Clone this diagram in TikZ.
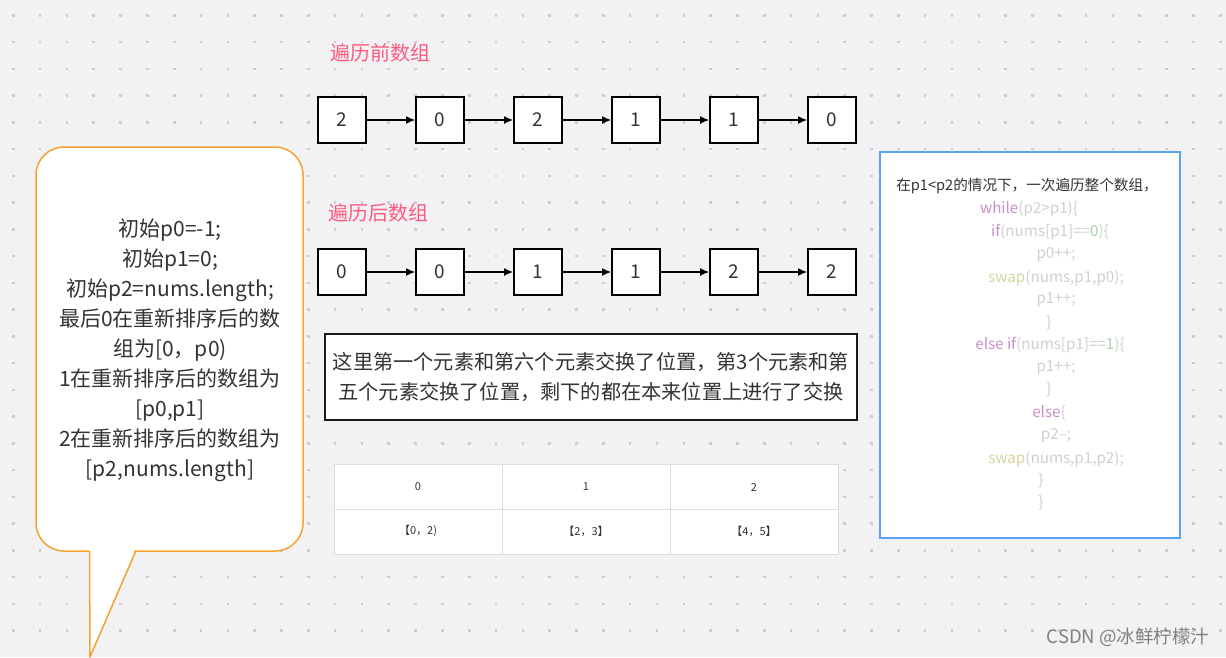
\documentclass[tikz,border=0pt]{standalone}
\usepackage{fontspec}
\setmainfont{Noto Sans CJK SC}
\usetikzlibrary{arrows.meta}
\definecolor{bgc}{HTML}{F2F2F5}
\definecolor{dotc}{HTML}{CDCDD0}
\definecolor{pinkc}{HTML}{FF5A7E}
\definecolor{orangec}{HTML}{F5A231}
\definecolor{bluec}{HTML}{5BA3F0}
\definecolor{txtc}{HTML}{333333}
\definecolor{gridc}{HTML}{DCDCDC}
\definecolor{codec}{HTML}{D0D0D0}
\definecolor{kwc}{HTML}{C98FC9}
\definecolor{fnc}{HTML}{D5D5A3}
\definecolor{numc}{HTML}{A6D2A6}
\newcommand{\kw}[1]{\textcolor{kwc}{#1}}
\newcommand{\fn}[1]{\textcolor{fnc}{#1}}
\newcommand{\nm}[1]{\textcolor{numc}{#1}}
\begin{document}
\begin{tikzpicture}[x=1pt,y=-1pt,>={Latex[length=9pt,width=8pt]},
  cell/.style={draw=black,line width=2.3pt,fill=white,minimum width=47.5pt,
    minimum height=46pt,inner sep=0pt,text=txtc,font=\fontsize{19}{19}\selectfont},
  title/.style={text=pinkc,font=\fontsize{20}{20}\selectfont},
  tab/.style={text=txtc,font=\fontsize{11}{11}\selectfont},
  codeline/.style={text=codec,inner sep=0pt,font=\fontsize{15.2}{15.2}\selectfont}]
\useasboundingbox (0,0) rectangle (1226,657);
\fill[bgc] (0,0) rectangle (1226,657);
% dotted grid
\foreach \i in {0,...,45}
  \foreach \j in {0,...,23}
    \fill[dotc] (12+\i*26.82,14+\j*26.75) rectangle +(2.6,2.6);

% speech bubble
\draw[orangec,line width=1.5pt,fill=white,rounded corners=28pt] (36,147) rectangle (303,551);
\fill[white] (89.5,548) -- (135.5,548) -- (90,657) -- cycle;
\draw[orangec,line width=1.5pt] (89.5,551) -- (90,657) -- (135.8,551);
\node[align=center,text=txtc,font=\fontsize{21}{30}\selectfont] (init) at (170,350)
  {初始p0=-1;\\初始p1=0;\\初始p2=nums.length;\\最后0在重新排序后的数\\组为[0，p0)\\
   1在重新排序后的数组为\\{[}p0,p1{]}\\2在重新排序后的数组为\\{[}p2,nums.length{]}};

% arrays
\node[title,anchor=west] (before) at (327,53) {遍历前数组};
\node[title,anchor=west] (after) at (325,213) {遍历后数组};
\foreach \k/\v in {1/2,2/0,3/2,4/1,5/1,6/0}
  \node[cell] (a\k) at (244+98*\k,120) {\v};
\foreach \k/\v in {1/0,2/0,3/1,4/1,5/2,6/2}
  \node[cell] (b\k) at (244+98*\k,272) {\v};
\foreach \i/\j in {1/2,2/3,3/4,4/5,5/6}
{
  \draw[->,line width=1.3pt] (a\i) -- (a\j);
  \draw[->,line width=1.3pt] (b\i) -- (b\j);
}

% note
\node[draw=black!90,line width=2pt,fill=white,minimum width=532pt,minimum height=86pt,
  align=center,text=txtc,font=\fontsize{20.2}{30}\selectfont] (note) at (591,377)
  {这里第一个元素和第六个元素交换了位置，第3个元素和第\\五个元素交换了位置，剩下的都在本来位置上进行了交换};

% table
\fill[white] (334,464) rectangle (838,554);
\draw[gridc,line width=1pt] (334,464) rectangle (838,554);
\draw[gridc,line width=1pt] (334,509) -- (838,509);
\draw[gridc,line width=1pt] (502,464) -- (502,554);
\draw[gridc,line width=1pt] (670,464) -- (670,554);
\node[tab] (h0) at (418,487) {0};
\node[tab] (h1) at (586,487) {1};
\node[tab] (h2) at (754,487) {2};
\node[tab] (r0) at (418,531) {【0，2)};
\node[tab] (r1) at (586,531) {【2，3】};
\node[tab] (r2) at (754,531) {【4，5】};

% code
\node[draw=bluec,line width=2pt,fill=white,minimum width=300pt,minimum height=386pt] (codebox) at (1030,345) {};
\node[text=txtc,font=\fontsize{14.6}{14.6}\selectfont] (cond) at (1027,186) {在p1<p2的情况下，一次遍历整个数组，};
\foreach \x/\y/\t [count=\n] in {
    1029/209/{\kw{while}(p2>p1)\{},
    1050/232/{\kw{if}(nums[p1]==\nm{0})\{},
    1056/255/{p0++;},
    1056/278/{\fn{swap}(nums,p1,p0);},
    1056/300/{p1++;},
    1049/323/{\}},
    1050/345/{\kw{else if}(nums[p1]==\nm{1})\{},
    1056/368/{p1++;},
    1049/390/{\}},
    1049/413/{\kw{else}\{},
    1056/436/{p2--;},
    1056/459/{\fn{swap}(nums,p1,p2);},
    1041/481/{\}},
    1041/503/{\}}}
  \node[codeline] (code\n) at (\x,\y) {\t};

\node[text=black!50,font=\fontsize{18.5}{18.5}\selectfont,anchor=east] (mark) at (1213,637) {CSDN @冰鲜柠檬汁};
\end{tikzpicture}
\end{document}
